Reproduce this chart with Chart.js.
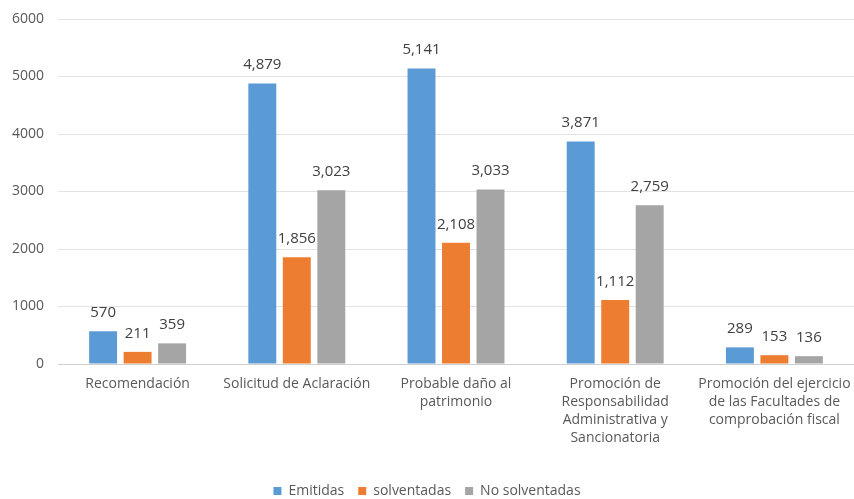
<!DOCTYPE html>
<html><head><meta charset="utf-8">
<script src="https://cdn.jsdelivr.net/npm/chart.js@4/dist/chart.umd.min.js"></script>
<style>html,body{margin:0;padding:0;background:#fff}#w{width:854px;height:499px}</style>
</head><body><div id="w"><canvas id="c"></canvas></div>
<script>
const categories = [
  ["Recomendación"],
  ["Solicitud de Aclaración"],
  ["Probable daño al", "patrimonio"],
  ["Promoción de", "Responsabilidad", "Administrativa y", "Sancionatoria"],
  ["Promoción del ejercicio", "de las Facultades de", "comprobación fiscal"]
];
const emitidas = [570, 4879, 5141, 3871, 289];
const solventadas = [211, 1856, 2108, 1112, 153];
const noSolventadas = [359, 3023, 3033, 2759, 136];
const seriesNames = ["Emitidas", "solventadas", "No solventadas"];

const labelPlugin = {
  id: 'vals',
  afterDatasetsDraw(chart) {
    const ctx = chart.ctx;
    ctx.save();
    ctx.font = '15px "Open Sans", sans-serif';
    ctx.fillStyle = '#404040';
    ctx.textAlign = 'center';
    ctx.textBaseline = 'bottom';
    chart.data.datasets.forEach((ds, i) => {
      chart.getDatasetMeta(i).data.forEach((el, j) => {
        ctx.fillText(ds.data[j].toLocaleString('en-US'), el.x, el.y - 11);
      });
    });
    ctx.restore();
  }
};

new Chart(document.getElementById('c'), {
  type: 'bar',
  data: {
    labels: categories,
    datasets: [
      {label: seriesNames[0], data: emitidas, backgroundColor: '#5B9BD5'},
      {label: seriesNames[1], data: solventadas, backgroundColor: '#ED7D31'},
      {label: seriesNames[2], data: noSolventadas, backgroundColor: '#A5A5A5'}
    ]
  },
  options: {
    responsive: true, maintainAspectRatio: false, animation: false,
    layout: {padding: {top: 19, right: 0, left: 0, bottom: -9}},
    datasets: {bar: {categoryPercentage: 0.65, barPercentage: 0.81}},
    plugins: {
      legend: {position: 'bottom', labels: {boxWidth: 8, boxHeight: 8, color: '#595959', font: {size: 14, family: '"Open Sans", sans-serif'}, padding: 14}},
      tooltip: {enabled: false}
    },
    scales: {
      y: {
        min: 0, max: 6000,
        ticks: {stepSize: 1000, color: '#595959', font: {size: 14, family: '"Open Sans", sans-serif'}, padding: 2, callback: v => String(v)},
        grid: {color: '#e3e3e3', drawTicks: true, tickLength: 12, tickColor: 'rgba(0,0,0,0)'},
        border: {display: false},
        afterFit(s) { s.width = 58; }
      },
      x: {
        ticks: {color: '#595959', font: {size: 14, family: '"Open Sans", sans-serif', lineHeight: 1.29}, maxRotation: 0, autoSkip: false, padding: 11},
        grid: {display: false, drawTicks: false},
        border: {color: '#d0d0d0'},
        afterFit(s) { s.height = 106; s.paddingRight = 0; s.paddingLeft = 0; }
      }
    }
  },
  plugins: [labelPlugin]
});
</script></body></html>
